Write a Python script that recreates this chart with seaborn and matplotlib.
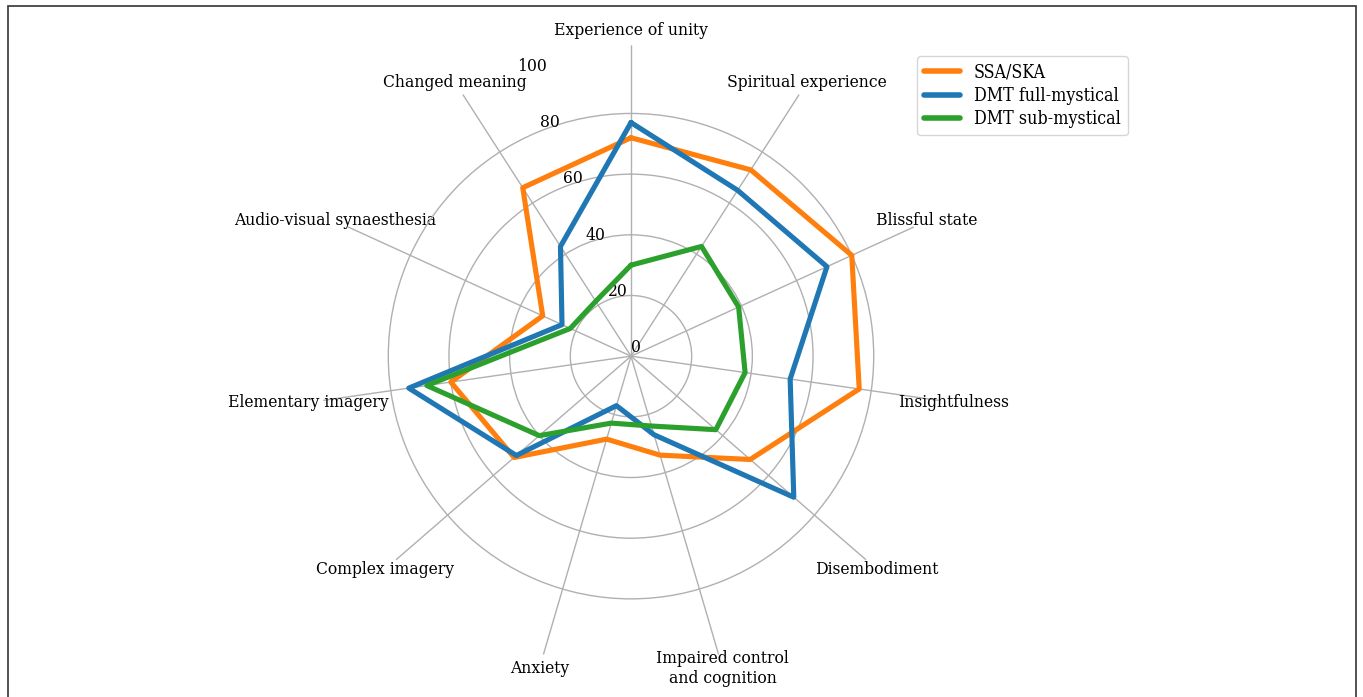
import numpy as np
import pandas as pd
import matplotlib
matplotlib.use("Agg")
import matplotlib.pyplot as plt
from matplotlib.patches import Rectangle
import seaborn as sns

sns.set_style("white")
plt.rcParams['font.family'] = ['DejaVu Serif']
plt.rcParams['font.stretch'] = 'condensed'
plt.rcParams['text.color'] = 'black'
plt.rcParams['xtick.color'] = 'black'
plt.rcParams['ytick.color'] = 'black'

# data
categories = ["Experience of unity", "Spiritual experience", "Blissful state",
              "Insightfulness", "Disembodiment", "Impaired control\nand cognition",
              "Anxiety", "Complex imagery", "Elementary imagery",
              "Audio-visual synaesthesia", "Changed meaning"]
ssa_ska = [72, 73, 80, 76, 52, 34, 28.5, 51, 60, 32, 66]
dmt_full = [77, 65, 71, 53, 71, 27, 17, 50, 74, 25, 43]
dmt_sub = [30, 43, 39, 38, 37, 24, 23, 40, 68, 22, 21.5]
groups = ["SSA/SKA", "DMT full-mystical", "DMT sub-mystical"]
r_ticks = [0, 20, 40, 60, 80, 100]

colors = ["#ff7f0e", "#1f77b4", "#2ca02c"]

n = len(categories)
angles = np.linspace(0, 2 * np.pi, n, endpoint=False)

rows = []
for g, vals in zip(groups, [ssa_ska, dmt_full, dmt_sub]):
    # close the polygon
    for i, (a, v) in enumerate(zip(list(angles) + [2 * np.pi], vals + vals[:1])):
        rows.append({"group": g, "theta": a, "value": v, "order": i})
df = pd.DataFrame(rows)

fig = plt.figure(figsize=(13.63, 6.97), dpi=100)
ax = fig.add_axes([0.2348, 0.0428, 0.4563, 0.8924], projection='polar')
ax.set_theta_offset(np.pi / 2)
ax.set_theta_direction(-1)

sns.lineplot(data=df, x="theta", y="value", hue="group", hue_order=groups,
             palette=colors, sort=False, estimator=None, units="group",
             linewidth=3.7, ax=ax)

ax.set_ylim(0, 102.5)
ax.set_yticks(r_ticks)
ax.set_yticklabels([str(t) for t in r_ticks], fontsize=12.5)
ax.set_rlabel_position(-22)
ax.set_xticks(angles)
ax.set_xticklabels(categories, fontsize=12.5)
ax.tick_params(axis='x', pad=0)
ax.set_xlabel('')
ax.set_ylabel('')
ax.grid(True, color='#b0b0b0', linewidth=1)
ax.yaxis.get_gridlines()[-1].set_visible(False)
ax.spines['polar'].set_visible(False)

ax.get_legend().remove()
handles, labels = ax.get_legend_handles_labels()
fig.legend(handles, labels, loc='upper right', bbox_to_anchor=(0.834, 0.932),
           fontsize=12.8, frameon=True, edgecolor='#cccccc', handlelength=2.0,
           labelspacing=0.3)
for line in fig.legends[0].get_lines():
    line.set_linewidth(4)

# thin frame around the figure
fig.patches.append(Rectangle((0.0059, -0.05), 0.989, 1.041, transform=fig.transFigure,
                             fill=False, edgecolor='#333333', linewidth=1.2))

fig.savefig("out.png", dpi=100)
